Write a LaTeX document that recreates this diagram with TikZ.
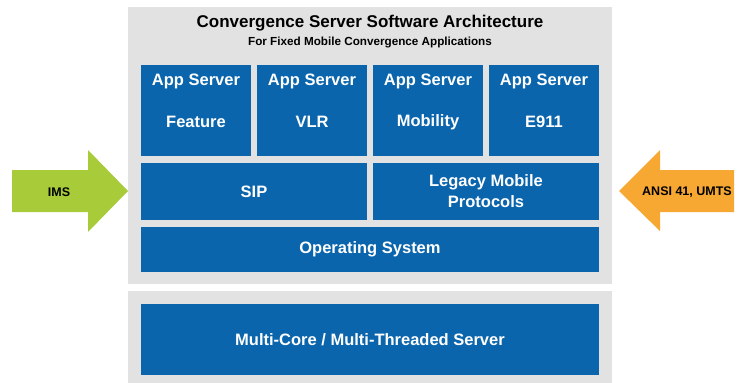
\documentclass[tikz,border=0pt]{standalone}
\usepackage{fontspec}
\setmainfont{Liberation Sans}
\usepackage{tikz}
\usetikzlibrary{positioning}

\definecolor{layerblue}{RGB}{10,101,172}
\definecolor{panelgray}{RGB}{226,226,226}
\definecolor{imsgreen}{RGB}{168,203,58}
\definecolor{ansiorange}{RGB}{247,168,51}

\begin{document}
\begin{tikzpicture}[
  x=1pt, y=-1pt,
  every node/.style={font=\bfseries},
  layer/.style={fill=layerblue, draw=none, inner sep=0pt, text=white,
    align=center, font=\fontsize{16.5}{21}\selectfont\bfseries},
  boxtext/.style={text=white, inner sep=0pt,
    font=\fontsize{16.5}{21}\selectfont\bfseries},
  arrowtext/.style={text=black, inner sep=0pt,
    font=\fontsize{12.5}{15}\selectfont\bfseries}
]
\useasboundingbox (0,0) rectangle (740,383);

%% ── background panels ────────────────────────────────────────────────────────
\fill[panelgray] (128,7) rectangle (612,284);
\fill[panelgray] (128,291) rectangle (612,383);

%% ── title ────────────────────────────────────────────────────────────────────
\node[font=\fontsize{17}{20}\selectfont\bfseries] (title) at (370,23)
  {Convergence Server Software Architecture};
\node[font=\fontsize{11.7}{14}\selectfont\bfseries] (subtitle) at (370,42)
  {For Fixed Mobile Convergence Applications};

%% ── application servers ──────────────────────────────────────────────────────
\foreach \name/\cx/\sub in {feature/196/Feature, vlr/312/VLR,
                            mobility/428/Mobility, e911/544/E911} {
  \node[layer, minimum width=110pt, minimum height=91pt] (\name) at (\cx,110.5) {};
  \node[boxtext] (\name-top) at ([yshift=-17pt]\name.north) {App Server};
  \node[boxtext] (\name-sub) at ([yshift=-57pt]\name.north) {\sub};
}

%% ── protocol layer ───────────────────────────────────────────────────────────
\node[layer, minimum width=226pt, minimum height=57pt] (sip) at (254,191.5) {SIP};
\node[layer, minimum width=226pt, minimum height=57pt] (legacy) at (486,191.5)
  {Legacy Mobile\\Protocols};

%% ── operating system / hardware ──────────────────────────────────────────────
\node[layer, minimum width=458pt, minimum height=45pt] (os) at (370,249.5)
  {Operating System};
\node[layer, minimum width=458pt, minimum height=71pt] (hw) at (370,339.5)
  {Multi-Core / Multi-Threaded Server};

%% ── input arrows ─────────────────────────────────────────────────────────────
\fill[imsgreen]
  (12,170) -- (88,170) -- (88,150) -- (128,191)
  -- (88,232) -- (88,212) -- (12,212) -- cycle;
\node[arrowtext] (ims) at (59,192) {IMS};

\fill[ansiorange]
  (734,170) -- (660,170) -- (660,150) -- (619,191)
  -- (660,231) -- (660,212) -- (734,212) -- cycle;
\node[arrowtext] (ansi) at (687,192) {ANSI 41, UMTS};

\end{tikzpicture}
\end{document}
